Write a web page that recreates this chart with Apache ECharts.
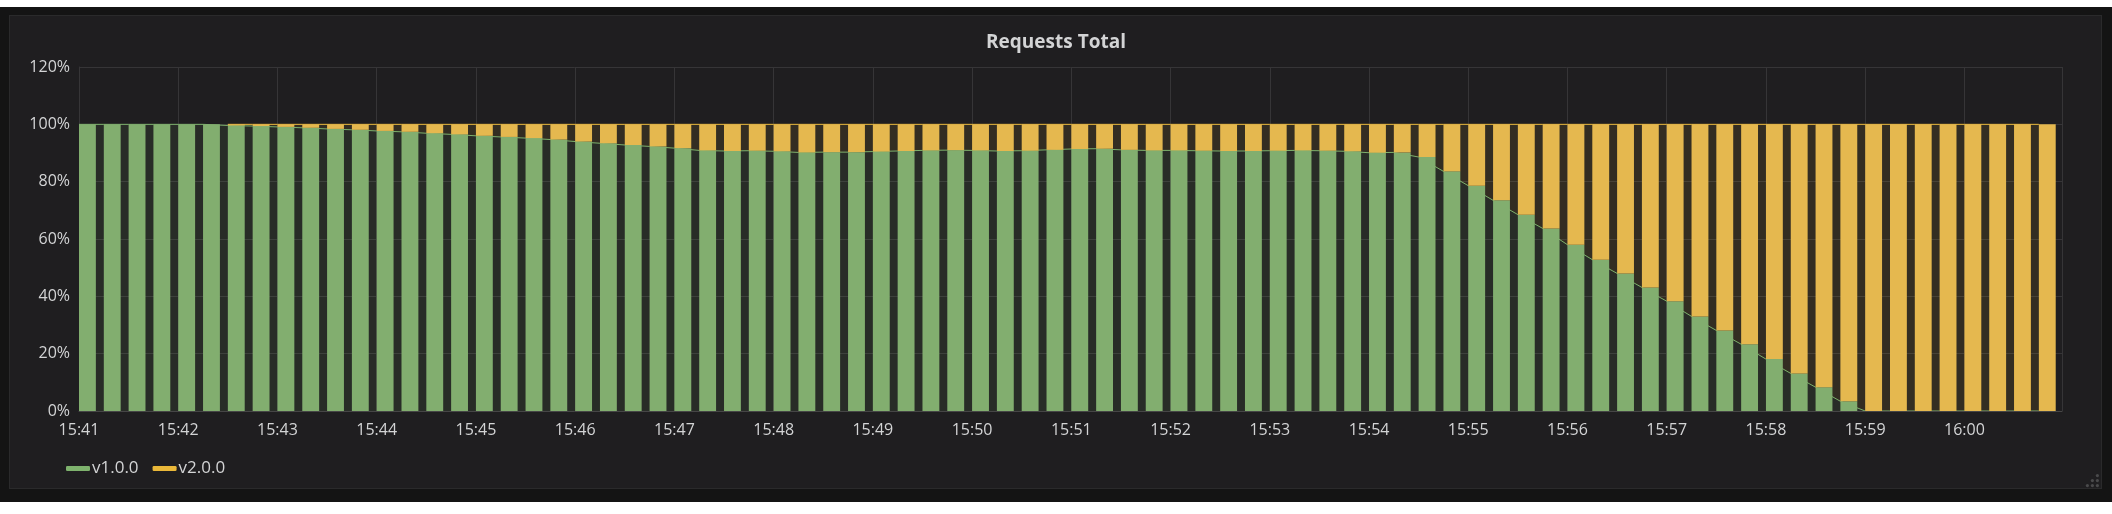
<!DOCTYPE html>
<html>
<head>
<meta charset="utf-8">
<script src="https://cdn.jsdelivr.net/npm/echarts@6/dist/echarts.min.js"></script>
<style>
  html, body { margin: 0; padding: 0; background: #ffffff; width: 2112px; height: 514px; overflow: hidden; }
  #outer { position: absolute; left: 0; top: 7px; width: 2112px; height: 495px; background: #141414; }
  #panel { position: absolute; left: 9px; top: 15px; width: 2093px; height: 474px; background: #1f1e20; border: 1px solid #2a2a2b; box-sizing: border-box; }
  #chart { position: absolute; left: 0; top: 0; width: 2112px; height: 514px; }
</style>
</head>
<body>
<div id="outer"></div>
<div id="panel"></div>
<div id="chart"></div>
<script>
// ---- data (percent of total requests, one point every 15 s starting 15:41:00) ----
const startTime = new Date(2018, 0, 1, 15, 41, 0).getTime();
const stepMs = 15000;
const seriesNames = ['v1.0.0', 'v2.0.0'];
const v1Values = [
  100, 100, 100, 100, 100, 100, 99.6, 99.4, 99.1, 98.8,
  98.4, 98.1, 97.7, 97.4, 96.9, 96.5, 96.0, 95.6, 95.2, 94.7,
  94.0, 93.4, 92.8, 92.3, 91.7, 90.9, 90.7, 90.8, 90.6, 90.2,
  90.3, 90.3, 90.5, 90.7, 90.9, 91.0, 90.9, 90.7, 90.8, 91.1,
  91.4, 91.5, 91.1, 90.9, 90.9, 90.8, 90.7, 90.7, 90.8, 90.9,
  90.8, 90.6, 90.1, 90.2, 88.6, 83.6, 78.6, 73.5, 68.5, 63.7,
  58.0, 52.8, 48.0, 43.1, 38.3, 33.0, 28.1, 23.3, 18.1, 13.1,
  8.3, 3.4, 0, 0, 0, 0, 0, 0, 0, 0
];
const v2Values = [
  null, null, null, null, null, null, 0.4, 0.6, 0.9, 1.2,
  1.6, 1.9, 2.3, 2.6, 3.1, 3.5, 4.0, 4.4, 4.8, 5.3,
  6.0, 6.6, 7.2, 7.7, 8.3, 9.1, 9.3, 9.2, 9.4, 9.8,
  9.7, 9.7, 9.5, 9.3, 9.1, 9.0, 9.1, 9.3, 9.2, 8.9,
  8.6, 8.5, 8.9, 9.1, 9.1, 9.2, 9.3, 9.3, 9.2, 9.1,
  9.2, 9.4, 9.9, 9.8, 11.4, 16.4, 21.4, 26.5, 31.5, 36.3,
  42.0, 47.2, 52.0, 56.9, 61.7, 67.0, 71.9, 76.7, 81.9, 86.9,
  91.7, 96.6, 100, 100, 100, 100, 100, 100, 100, 100
];
const yTicks = [0, 20, 40, 60, 80, 100, 120];

// ---- styles ----
const lineColors = ['#7eb26d', '#eab839'];
const barColors = ['#82ae6f', '#e5b84f'];
const textColor = '#d3d4d5';
const gridColor = '#363537';

const times = v1Values.map((_, i) => startTime + i * stepMs);
const axisMax = startTime + 20 * 60000 - 1000;

function pad(n) { return (n < 10 ? '0' : '') + n; }
function fmtTime(v) { const d = new Date(v); return pad(d.getHours()) + ':' + pad(d.getMinutes()); }

const v1Line = times.map((t, i) => [t, v1Values[i]]);
const v2Line = times.map((t, i) => [t, v2Values[i] == null ? null : v2Values[i]]);
const v1Bars = [];
const v2Bars = [];
times.forEach((t, i) => {
  if (v1Values[i] != null) v1Bars.push([t, 0, v1Values[i]]);
  if (v2Values[i] != null) v2Bars.push([t, v1Values[i], v1Values[i] + v2Values[i]]);
});

function makeBarRender(color) {
  return function (params, api) {
    const t = api.value(0), lo = api.value(1), hi = api.value(2);
    const p0 = api.coord([t, lo]);
    const p1 = api.coord([t, hi]);
    const w = api.size([stepMs, 0])[0] * 0.68;
    return {
      type: 'rect',
      shape: { x: p0[0], y: p1[1], width: w, height: p0[1] - p1[1] },
      style: { fill: color }
    };
  };
}

const chart = echarts.init(document.getElementById('chart'), null, { renderer: 'canvas' });
const fontFamily = '"Open Sans", "Noto Sans", sans-serif';

chart.setOption({
  backgroundColor: 'transparent',
  animation: false,
  title: {
    text: 'Requests Total',
    left: 'center',
    top: 28,
    textStyle: { color: textColor, fontSize: 19, fontWeight: 'bold', fontFamily: fontFamily }
  },
  legend: {
    left: 61,
    top: 455,
    itemWidth: 24,
    itemHeight: 5,
    itemGap: 14,
    icon: 'roundRect',
    textStyle: { color: textColor, fontSize: 17, fontFamily: fontFamily, padding: [0, 0, 0, -3] },
    data: [
      { name: seriesNames[0], itemStyle: { color: lineColors[0] } },
      { name: seriesNames[1], itemStyle: { color: lineColors[1] } }
    ]
  },
  grid: { left: 79, right: 50, top: 67, bottom: 103 },
  xAxis: [
    {
      type: 'time',
      min: startTime,
      max: axisMax,
      minInterval: 60000,
      maxInterval: 60000,
      axisLine: { show: false },
      axisTick: { show: false },
      splitLine: { show: true, lineStyle: { color: gridColor, width: 1 } },
      axisLabel: {
        color: textColor, fontSize: 16, fontFamily: fontFamily, margin: 11,
        formatter: fmtTime, hideOverlap: false
      }
    },
    {
      type: 'time',
      position: 'bottom',
      min: startTime,
      max: axisMax,
      z: 10,
      axisLine: { show: true, lineStyle: { color: '#464646', width: 1 } },
      axisTick: { show: false },
      axisLabel: { show: false },
      splitLine: { show: false }
    }
  ],
  yAxis: {
    type: 'value',
    min: yTicks[0],
    max: yTicks[yTicks.length - 1],
    interval: 20,
    axisLine: { show: true, lineStyle: { color: gridColor } },
    axisTick: { show: false },
    splitLine: { show: true, lineStyle: { color: gridColor, width: 1 } },
    axisLabel: { color: textColor, fontSize: 16, fontFamily: fontFamily, margin: 9, formatter: '{value}%' }
  },
  series: [
    {
      name: seriesNames[0], type: 'line', stack: 'pct', data: v1Line, xAxisIndex: 0,
      showSymbol: false, symbol: 'none', z: 1,
      lineStyle: { color: lineColors[0], width: 1 },
      itemStyle: { color: lineColors[0] },
      areaStyle: { color: lineColors[0], opacity: 0.1 }
    },
    {
      name: seriesNames[1], type: 'line', stack: 'pct', data: v2Line, xAxisIndex: 0,
      showSymbol: false, symbol: 'none', z: 1,
      lineStyle: { color: lineColors[1], width: 1 },
      itemStyle: { color: lineColors[1] },
      areaStyle: { color: lineColors[1], opacity: 0.1 }
    },
    {
      name: seriesNames[0], type: 'custom', data: v1Bars, xAxisIndex: 0, z: 3,
      encode: { x: 0, y: [1, 2] },
      itemStyle: { color: barColors[0] },
      renderItem: makeBarRender(barColors[0])
    },
    {
      name: seriesNames[1], type: 'custom', data: v2Bars, xAxisIndex: 0, z: 3,
      encode: { x: 0, y: [1, 2] },
      itemStyle: { color: barColors[1] },
      renderItem: makeBarRender(barColors[1])
    }
  ],
  graphic: [
    { type: 'circle', right: 13, top: 474, shape: { r: 1.6 }, style: { fill: '#4a4a4b' } },
    { type: 'circle', right: 13, top: 479, shape: { r: 1.6 }, style: { fill: '#4a4a4b' } },
    { type: 'circle', right: 18, top: 479, shape: { r: 1.6 }, style: { fill: '#4a4a4b' } },
    { type: 'circle', right: 13, top: 484, shape: { r: 1.6 }, style: { fill: '#4a4a4b' } },
    { type: 'circle', right: 18, top: 484, shape: { r: 1.6 }, style: { fill: '#4a4a4b' } },
    { type: 'circle', right: 23, top: 484, shape: { r: 1.6 }, style: { fill: '#4a4a4b' } }
  ]
});
</script>
</body>
</html>
